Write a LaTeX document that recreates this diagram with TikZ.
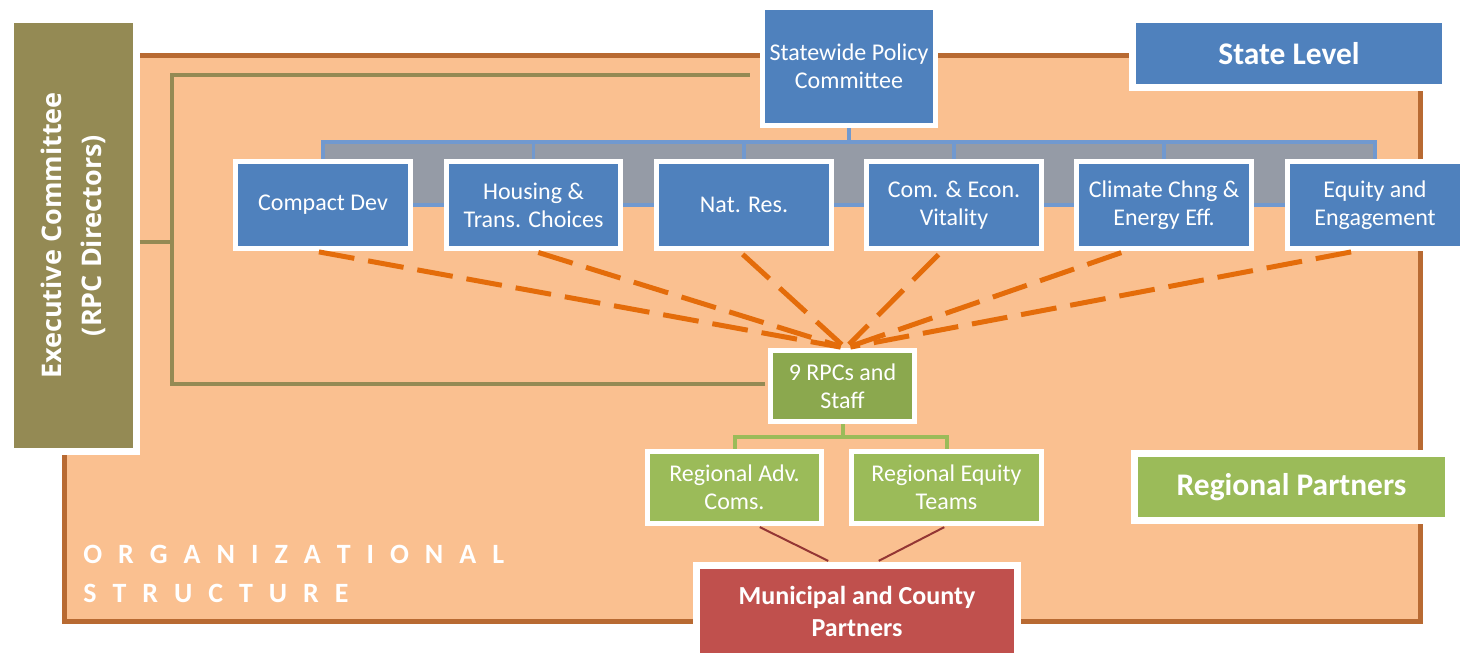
\documentclass[tikz,border=0pt]{standalone}
\usepackage{fontspec}
\setmainfont{Carlito}
\newfontfamily\execfont{Open Sans}
\usetikzlibrary{shadows,backgrounds}

\definecolor{boxblue}{HTML}{4F81BD}
\definecolor{barblue}{HTML}{7199CF}
\definecolor{bargray}{HTML}{959BA6}
\definecolor{execolive}{HTML}{948A54}
\definecolor{rpcgreen}{HTML}{8BA84E}
\definecolor{leafgreen}{HTML}{9BBB59}
\definecolor{munired}{HTML}{C0504D}
\definecolor{dashorange}{HTML}{E46C0A}
\definecolor{linkred}{HTML}{943634}
\definecolor{framefill}{HTML}{FAC090}
\definecolor{frameline}{HTML}{B86A32}

\tikzset{
  unitbox/.style={draw=white, line width=0.1cm, text=white, align=center, inner sep=0pt,
    font=\fontsize{13.66}{15.9}\selectfont},
  levelbox/.style={draw=white, line width=0.14cm, text=white, align=center, inner sep=0pt,
    font=\bfseries\fontsize{17.9}{21}\selectfont,
    drop shadow={opacity=0.25, shadow xshift=0.06cm, shadow yshift=-0.06cm}},
  committee/.style={unitbox, fill=boxblue, minimum width=3.5cm, minimum height=1.74cm},
  regional/.style={unitbox, fill=leafgreen, minimum height=1.44cm},
  feed/.style={dashorange, line width=0.1cm, dash pattern=on 0.72cm off 0.28cm,
    shorten <=0.1cm, shorten >=0.1cm},
  execline/.style={execolive, line width=0.08cm},
  barline/.style={barblue, line width=0.07cm},
  leafline/.style={leafgreen, line width=0.08cm},
  linkline/.style={linkred, line width=0.04cm, shorten <=0.05cm, shorten >=0.05cm},
  orgtext/.style={text=white, anchor=base west, inner sep=0pt,
    font=\bfseries\fontsize{15.9}{22.2}\selectfont}
}

\begin{document}
\begin{tikzpicture}[x=0.02cm, y=-0.02cm]
  \useasboundingbox (0,0) rectangle (1462,660);

  % state level
  \node[unitbox, fill=boxblue, minimum width=3.46cm, minimum height=2.36cm] (sw) at (849,66.5)
    {Statewide Policy\\Committee};
  \node[committee] (cd) at (323,205) {Compact Dev};
  \node[committee] (ht) at (533.5,205) {Housing \&\\Trans. Choices};
  \node[committee] (nr) at (744,205) {Nat. Res.};
  \node[committee] (ce) at (954,205) {Com. \& Econ.\\Vitality};
  \node[committee] (cc) at (1164,205) {Climate Chng \&\\Energy Eff.};
  \node[committee] (ee) at (1375,205) {Equity and\\Engagement};

  % regional level
  \node[unitbox, fill=rpcgreen, minimum width=2.88cm, minimum height=1.42cm] (rpc) at (842.5,386)
    {9 RPCs and\\Staff};
  \node[regional, minimum width=3.48cm] (rac) at (734.5,487.5) {Regional Adv.\\Coms.};
  \node[regional, minimum width=3.8cm] (ret) at (946.5,487.5) {Regional Equity\\Teams};

  \node[levelbox, fill=munired, minimum width=6.42cm, minimum height=1.82cm,
    font=\bfseries\fontsize{14.8}{18.2}\selectfont] (muni) at (857,611)
    {Municipal and County\\Partners};
  \node[levelbox, fill=boxblue, minimum width=6.26cm, minimum height=1.36cm] (state) at (1289,53.5)
    {State Level};
  \node[levelbox, fill=leafgreen, minimum width=6.28cm, minimum height=1.34cm] (partners) at (1291.5,487)
    {Regional Partners};
  \node[levelbox, fill=execolive, minimum width=8.64cm, minimum height=2.52cm, rotate=90,
    font=\execfont\bfseries\fontsize{15.37}{22.8}\selectfont] (exec) at (73.5,235.5)
    {Executive Committee\\(RPC Directors)};

  \node[orgtext] (org) at (83,563)
    {\foreach \c in {O,R,G,A,N,I,Z,A,T,I,O,N,A,L}{\c\kern0.32cm}};
  \node[orgtext] (struct) at (83,602)
    {\foreach \c in {S,T,R,U,C,T,U,R,E}{\c\kern0.32cm}};

  \begin{scope}[on background layer]
    \draw[frameline, fill=framefill, line width=0.1cm] (64.5,55.5) rectangle (1420.5,621.5);
    \coordinate (bar) at (0,142);
    \draw[barline, fill=bargray] (cd.center |- bar) rectangle (ee.center);
    \foreach \b in {ht,nr,ce,cc}
      \draw[barline] (\b.north |- bar) -- (\b.north);
    \draw[barline] (sw.south) -- (sw.south |- bar);
  \end{scope}

  % connectors
  \coordinate (top) at (172,75);
  \coordinate (bot) at (172,384);
  \coordinate (trunk) at (172,242);
  \draw[execline, shorten <=0.06cm, shorten >=0.2cm] (rpc.west |- bot) -- (bot) -- (top) -- (sw.west |- top);
  \draw[execline] (exec.south |- trunk) -- (trunk);

  \foreach \b/\dx in {cd/-0.18,ht/0,nr/-0.1,ce/-0.24,cc/-0.76,ee/-0.38}
    \draw[feed] ([xshift=\dx cm]\b.south) -- ([xshift=0.06cm]rpc.north);

  \coordinate (split) at (843,437);
  \draw[leafline] (rpc.south) -- (rpc.south |- split) -| (rac.north);
  \draw[leafline] (rpc.south |- split) -| (ret.north);

  \draw[linkline] ([xshift=0.46cm]rac.south) -- ([xshift=-0.53cm]muni.north);
  \draw[linkline] (ret.south) -- ([xshift=0.39cm]muni.north);
\end{tikzpicture}
\end{document}
